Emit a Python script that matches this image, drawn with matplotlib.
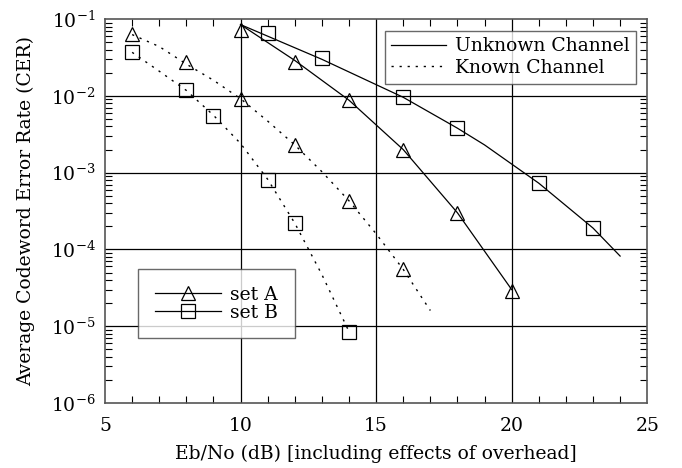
import math
import matplotlib
matplotlib.use("Agg")
import matplotlib.pyplot as plt
from matplotlib.ticker import FixedLocator, FuncFormatter, LogLocator, NullFormatter
from matplotlib.lines import Line2D

plt.rcParams['font.family'] = ['DejaVu Serif']
plt.rcParams['mathtext.fontset'] = 'dejavuserif'

# measured markers
a_unk_x = [10, 12, 14, 16, 18, 20]
a_unk_y = [0.072, 0.028, 0.0088, 0.002, 0.0003, 2.9e-5]
b_unk_x = [11, 13, 16, 18, 21, 23]
b_unk_y = [0.066, 0.031, 0.0096, 0.0038, 0.00073, 0.00019]
a_kn_x = [6, 8, 10, 12, 14, 16]
a_kn_y = [0.065, 0.0276, 0.0091, 0.0023, 0.00043, 5.6e-5]
b_kn_x = [6, 8, 9, 11, 12, 14]
b_kn_y = [0.037, 0.0119, 0.0055, 0.0008, 0.00022, 8.4e-6]

# curves
a_unk_cx = [10, 12, 14, 16, 18, 20]
a_unk_cy = [0.085, 0.029, 0.0088, 0.002, 0.0003, 3e-5]
b_unk_cx = [10, 13, 16, 18, 19, 21, 23, 24]
b_unk_cy = [0.085, 0.03, 0.0096, 0.0038, 0.0023, 0.00073, 0.00019, 8.2e-5]
a_kn_cx = [6, 7, 8, 9, 10, 11, 12, 13, 14, 15, 16, 17]
a_kn_cy = [0.063, 0.044, 0.026, 0.016, 0.0092, 0.0047, 0.0023, 0.00103, 0.00043, 0.00016, 5.5e-5, 1.6e-5]
b_kn_cx = [6, 7, 8, 9, 10, 11, 12, 13, 14]
b_kn_cy = [0.037, 0.021, 0.0118, 0.0056, 0.0024, 0.00082, 0.00022, 4.7e-5, 8.5e-6]

fs = 13.5
dash = (0, (1.6, 4.2))
mk = dict(markersize=10, markerfacecolor='none', markeredgecolor='black', markeredgewidth=0.9, linestyle='none')

fig = plt.figure(figsize=(6.82, 4.68), dpi=100)
ax = fig.add_axes([0.154, 0.139, 0.795, 0.82])

ax.plot(a_unk_cx, a_unk_cy, color='black', lw=0.9)
ax.plot(b_unk_cx, b_unk_cy, color='black', lw=0.9)
ax.plot(a_kn_cx, a_kn_cy, color='black', lw=1.0, linestyle=dash)
ax.plot(b_kn_cx, b_kn_cy, color='black', lw=1.0, linestyle=dash)

ax.plot(a_unk_x, a_unk_y, marker='^', **mk)
ax.plot(a_kn_x, a_kn_y, marker='^', **mk)
ax.plot(b_unk_x, b_unk_y, marker='s', **mk)
ax.plot(b_kn_x, b_kn_y, marker='s', **mk)

ax.set_yscale('log')
ax.set_xlim(5, 25)
ax.set_ylim(1e-6, 1e-1)

ax.xaxis.set_major_locator(FixedLocator([5, 10, 15, 20, 25]))
ax.xaxis.set_minor_locator(FixedLocator(list(range(5, 26))))
ax.yaxis.set_major_locator(LogLocator(base=10, numticks=10))
ax.yaxis.set_minor_locator(LogLocator(base=10, subs=range(2, 10), numticks=10))
ax.yaxis.set_minor_formatter(NullFormatter())
ax.yaxis.set_major_formatter(FuncFormatter(lambda v, p: r'$10^{%d}$' % round(math.log10(v))))

ax.tick_params(which='both', direction='in', top=True, right=True, labelsize=fs, colors='black')
ax.tick_params(axis='x', which='major', length=0, pad=10)
ax.tick_params(axis='y', which='major', length=0, pad=7)
ax.tick_params(which='minor', length=5, width=0.8)
for v in [10, 15, 20]:
    ax.axvline(v, color='black', lw=0.9, zorder=0.5)
for v in [1e-2, 1e-3, 1e-4, 1e-5]:
    ax.axhline(v, color='black', lw=0.9, zorder=0.5)
for s in ax.spines.values():
    s.set_color('#555555')
    s.set_linewidth(1.2)

ax.set_xlabel('Eb/No (dB) [including effects of overhead]', fontsize=fs, labelpad=7)
ax.set_ylabel('Average Codeword Error Rate (CER)', fontsize=fs, labelpad=11)

h1 = [Line2D([], [], color='black', lw=0.9), Line2D([], [], color='black', lw=1.0, linestyle=dash)]
leg1 = ax.legend(h1, ['Unknown Channel', 'Known Channel'], loc='upper right', bbox_to_anchor=(0.98, 0.97),
                 fontsize=fs, frameon=True, fancybox=False, handlelength=2.9, handletextpad=0.5,
                 borderpad=0.35, labelspacing=0.2, borderaxespad=0)
leg1.get_frame().set_edgecolor('#444444')
leg1.get_frame().set_linewidth(1.0)
ax.add_artist(leg1)

h2 = [Line2D([], [], color='black', lw=0.9, marker='^', markersize=10, markerfacecolor='none', markeredgewidth=0.9),
      Line2D([], [], color='black', lw=0.9, marker='s', markersize=10, markerfacecolor='none', markeredgewidth=0.9)]
leg2 = ax.legend(h2, ['set A', 'set B'], loc='lower left', bbox_to_anchor=(0.061, 0.168),
                 fontsize=fs, frameon=True, fancybox=False, handlelength=3.5, handletextpad=0.5,
                 borderpad=0.9, labelspacing=0.0, borderaxespad=0)
leg2.get_frame().set_edgecolor('#444444')
leg2.get_frame().set_linewidth(1.0)

fig.savefig('out.png', dpi=100)
